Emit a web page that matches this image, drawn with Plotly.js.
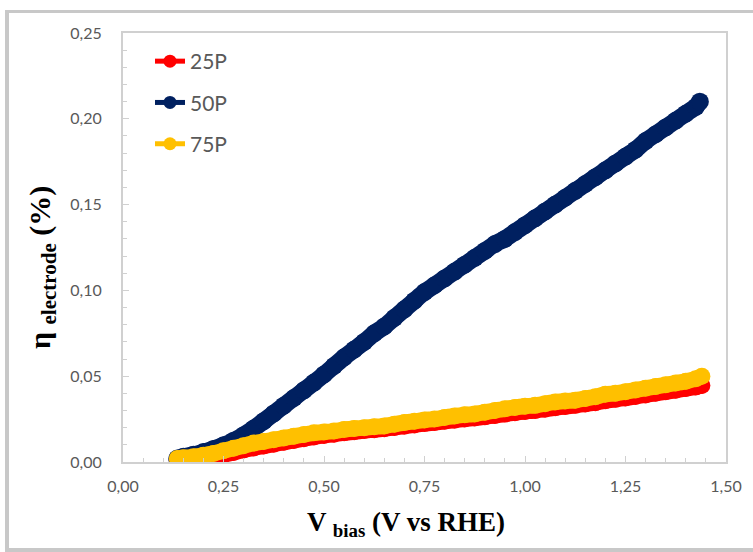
<!DOCTYPE html>
<html>
<head>
<meta charset="utf-8">
<script src="https://cdn.plot.ly/plotly-3.0.1.min.js"></script>
<style>html,body{margin:0;padding:0;background:#fff;}#chart{width:753px;height:552px;}</style>
</head>
<body>
<div id="chart"></div>
<script>
// Series names
var seriesNames = ["25P", "50P", "75P"];

// 25P (red)
var v25 = [0.135,0.15,0.175,0.20,0.225,0.25,0.275,0.30,0.325,0.35,0.375,0.40,0.425,0.45,0.475,0.50,0.525,0.55,0.575,0.60,0.625,0.65,0.675,0.70,0.725,0.75,0.775,0.80,0.825,0.85,0.875,0.90,0.925,0.95,0.975,1.00,1.025,1.05,1.075,1.10,1.125,1.15,1.175,1.20,1.225,1.25,1.275,1.30,1.325,1.35,1.375,1.40,1.425,1.44];
var eta25 = [0.0012,0.0013,0.0016,0.0022,0.003,0.0042,0.0056,0.007,0.0082,0.0093,0.0104,0.0115,0.0126,0.0136,0.0146,0.0155,0.0162,0.017,0.0176,0.0183,0.0188,0.0194,0.0201,0.0209,0.0216,0.0224,0.023,0.0237,0.0244,0.025,0.0256,0.0263,0.0271,0.0279,0.0287,0.0294,0.03,0.0308,0.0316,0.0323,0.033,0.0338,0.0346,0.0357,0.0365,0.0373,0.0382,0.0391,0.04,0.0409,0.0418,0.0428,0.0437,0.0446];

// 50P (navy)
var v50 = [0.135,0.15,0.175,0.20,0.225,0.25,0.275,0.30,0.325,0.35,0.375,0.40,0.425,0.45,0.475,0.50,0.525,0.55,0.575,0.60,0.625,0.65,0.675,0.70,0.725,0.75,0.775,0.80,0.825,0.85,0.875,0.90,0.925,0.95,0.975,1.00,1.025,1.05,1.075,1.10,1.125,1.15,1.175,1.20,1.225,1.25,1.275,1.30,1.325,1.35,1.375,1.40,1.425,1.435];
var eta50 = [0.002,0.003,0.0042,0.0058,0.0076,0.0097,0.0124,0.0156,0.0195,0.0238,0.0283,0.0328,0.0373,0.0418,0.0463,0.051,0.056,0.061,0.0655,0.070,0.075,0.079,0.084,0.089,0.094,0.099,0.103,0.107,0.111,0.115,0.119,0.123,0.127,0.130,0.134,0.138,0.142,0.146,0.150,0.154,0.158,0.162,0.166,0.170,0.174,0.178,0.182,0.187,0.191,0.195,0.199,0.203,0.207,0.210];

// 75P (gold)
var v75 = [0.135,0.15,0.175,0.20,0.225,0.25,0.275,0.30,0.325,0.35,0.375,0.40,0.425,0.45,0.475,0.50,0.525,0.55,0.575,0.60,0.625,0.65,0.675,0.70,0.725,0.75,0.775,0.80,0.825,0.85,0.875,0.90,0.925,0.95,0.975,1.00,1.025,1.05,1.075,1.10,1.125,1.15,1.175,1.20,1.225,1.25,1.275,1.30,1.325,1.35,1.375,1.40,1.425,1.44];
var eta75 = [0.002,0.0025,0.003,0.004,0.005,0.0065,0.008,0.0095,0.011,0.012,0.013,0.014,0.015,0.016,0.017,0.0175,0.018,0.019,0.0195,0.020,0.0205,0.021,0.022,0.023,0.0237,0.0245,0.025,0.026,0.0268,0.0275,0.028,0.029,0.030,0.031,0.0318,0.0325,0.033,0.034,0.035,0.0355,0.036,0.037,0.038,0.0395,0.040,0.041,0.042,0.043,0.044,0.045,0.046,0.047,0.0485,0.050];

// Axis ticks and titles
var xTicks = [0,0.25,0.5,0.75,1.0,1.25,1.5];
var yTicks = [0,0.05,0.10,0.15,0.20,0.25];
var xTitle = "V <sub>bias</sub> (V vs RHE)";
var yTitle = "η <sub>electrode</sub> (%)";

var colors = ["#FF0000", "#002060", "#FFC000"];
var xs = [v25, v50, v75];
var ys = [eta25, eta50, eta75];

var traces = [];
seriesNames.forEach(function(n, i){
  traces.push({
    x: xs[i], y: ys[i], name: n, type: "scatter", mode: "lines+markers",
    legendgroup: n, showlegend: false,
    line: {color: colors[i], width: i === 1 ? 17 : 16, shape: "spline", smoothing: 0.6},
    marker: {color: colors[i], size: i === 1 ? 18 : 17}
  });
});
// legend entries (styled like the reference legend swatches)
seriesNames.forEach(function(n, i){
  traces.push({
    x: [null], y: [null], name: n, type: "scatter", mode: "lines+markers",
    legendgroup: n, showlegend: true,
    line: {color: colors[i], width: 5},
    marker: {color: colors[i], size: 13}
  });
});

var W = 753, H = 552, L = 123, R = 27, T = 33, B = 90;
var pw = W - L - R, ph = H - T - B;
function px(x){ return (x - L) / pw; }
function py(y){ return (H - B - y) / ph; }

var frameColor = "#c8c8c8";
var shapes = [
  {type:"rect", xref:"paper", yref:"paper", x0:px(5), x1:px(9), y0:py(552), y1:py(10), fillcolor:frameColor, line:{width:0}, layer:"below"},
  {type:"rect", xref:"paper", yref:"paper", x0:px(5), x1:px(753), y0:py(13), y1:py(10), fillcolor:frameColor, line:{width:0}, layer:"below"},
  {type:"rect", xref:"paper", yref:"paper", x0:px(5), x1:px(753), y0:py(552), y1:py(548), fillcolor:frameColor, line:{width:0}, layer:"below"}
];

var tickFont = {family: "Lato, 'Open Sans', sans-serif", size: 16, color: "#595959"};
var xTitleFont = {family: "'Liberation Serif', 'Times New Roman', serif", size: 27, color: "#000000", weight: "bold"};
var yTitleFont = {family: "'Liberation Serif', 'Times New Roman', serif", size: 30, color: "#000000", weight: "bold"};

var layout = {
  width: W, height: H,
  margin: {l: L, r: R, t: T, b: B},
  paper_bgcolor: "#ffffff",
  plot_bgcolor: "#ffffff",
  separators: ",.",
  showlegend: true,
  legend: {
    x: px(150), y: py(41), xanchor: "left", yanchor: "top",
    bgcolor: "rgba(0,0,0,0)",
    font: {family: "Lato, 'Open Sans', sans-serif", size: 21, color: "#595959"},
    traceorder: "grouped", tracegroupgap: 11
  },
  xaxis: {
    range: [0, 1.5], tickvals: xTicks, tickformat: ".2f",
    showgrid: false, zeroline: false,
    showline: true, linecolor: "#d0d0d0", linewidth: 2, mirror: true,
    ticks: "inside", ticklen: 6, tickcolor: "#d0d0d0", tickwidth: 1,
    minor: {dtick: 0.05, ticks: "inside", ticklen: 4, tickcolor: "#d0d0d0", showgrid: false},
    tickfont: tickFont, ticklabelstandoff: 9
  },
  yaxis: {
    range: [0, 0.25], tickvals: yTicks, tickformat: ".2f",
    showgrid: false, zeroline: false,
    showline: true, linecolor: "#d0d0d0", linewidth: 2, mirror: true,
    ticks: "inside", ticklen: 6, tickcolor: "#d0d0d0", tickwidth: 1,
    minor: {dtick: 0.01, ticks: "inside", ticklen: 4, tickcolor: "#d0d0d0", showgrid: false},
    tickfont: tickFont, ticklabelstandoff: 16
  },
  annotations: [
    {text: xTitle, xref: "paper", yref: "paper", x: px(406), y: py(524), xanchor: "center", yanchor: "middle",
     showarrow: false, font: xTitleFont},
    {text: yTitle, xref: "paper", yref: "paper", x: px(42), y: py(268), xanchor: "center", yanchor: "middle",
     textangle: -90, showarrow: false, font: yTitleFont}
  ],
  shapes: shapes
};

Plotly.newPlot("chart", traces, layout, {displayModeBar: false, staticPlot: true});
</script>
</body>
</html>
